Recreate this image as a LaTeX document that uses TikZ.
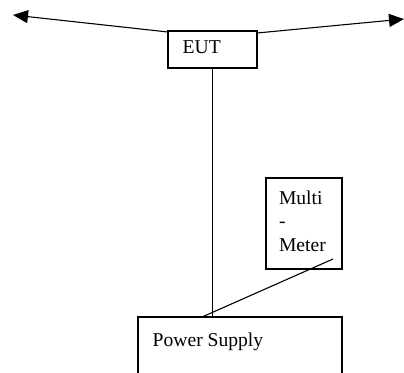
\documentclass[tikz,border=0pt]{standalone}
\usepackage{fontspec}
\setmainfont{Liberation Serif}
\usetikzlibrary{arrows.meta}
\begin{document}
\begin{tikzpicture}[x=1pt,y=-1pt,
  box/.style={draw,line width=1.1pt,inner sep=0pt,outer sep=0pt},
  lbl/.style={inner sep=0pt,outer sep=0pt,anchor=base west,font=\fontsize{19.6}{23.4}\selectfont,align=left},
  wire/.style={line width=1.1pt},
  arr/.style={wire,-{Triangle[length=15pt,width=13pt]}}]
\useasboundingbox (0,0) rectangle (404,372);
\fill[white] (0,0) rectangle (404,372);
% boxes
\node[box,minimum width=89pt,minimum height=37pt] (eut) at (212.5,49.5) {};
\node[box,minimum width=76pt,minimum height=91pt] (mm) at (304,223.5) {};
\node[box,minimum width=204pt,minimum height=100pt,anchor=north west] (ps) at (138,317) {};
% labels
\node[lbl] (eutl) at (182.7,53.3) {EUT};
\node[lbl] (mml) at (279,251) {Multi\\-\\Meter};
\node[lbl] (psl) at (152.7,346) {Power Supply};
% connector ends
\coordinate (ltip) at (13,15);
\coordinate (rtip) at (404,19);
\coordinate (mmend) at (333,259);
\coordinate (psend) at (202,317);
% connectors
\draw[arr] (eut.north west) ++(0,1) -- (ltip);
\draw[arr] (eut.north east) ++(0,2) -- (rtip);
\draw[wire] (eut.south) -- (eut.south |- ps.north);
\draw[wire] (mmend) -- (psend);
\end{tikzpicture}
\end{document}
